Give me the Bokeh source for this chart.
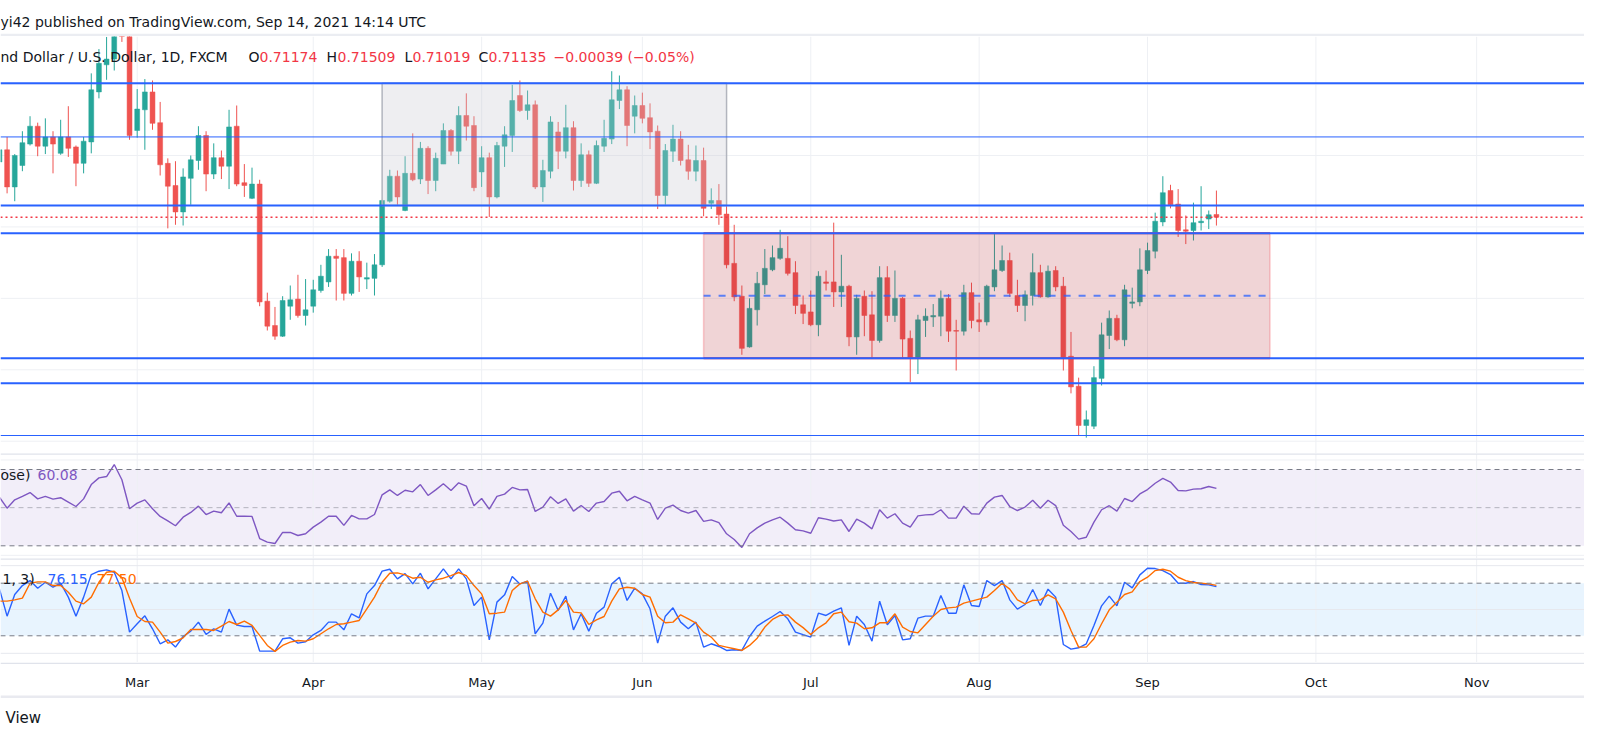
import numpy as np
import pandas as pd
from bokeh.plotting import figure
from bokeh.layouts import column
from bokeh.models import Range1d, Span, BoxAnnotation, Label, ColumnDataSource
from bokeh.core.properties import value
from bokeh.embed import file_html
from bokeh.resources import INLINE

FONT = "DejaVu Sans"
UP, DOWN = "#26a69a", "#ef5350"
BLUE = "#2962ff"
GRID = "#eef0f4"
INK = "#131722"

# NZD/USD daily bars, FXCM, 3 Feb - 14 Sep 2021
dates = pd.bdate_range("2021-02-03", "2021-09-14")
opens = [
    0.7191, 0.7208, 0.7156, 0.7186, 0.7216, 0.7241, 0.7213, 0.7226, 0.7203, 0.7226,
    0.7212, 0.7189, 0.7219, 0.7289, 0.7327, 0.7335, 0.7405, 0.7372,
    0.7235, 0.7264, 0.7289, 0.7246, 0.7189, 0.7158, 0.7121, 0.7168, 0.7193, 0.7228,
    0.7174, 0.7197, 0.7185, 0.7241, 0.7162, 0.7140, 0.7160, 0.6996, 0.6962, 0.6947,
    0.6989, 0.6999, 0.6976, 0.6989, 0.7011, 0.7023, 0.7059, 0.7057, 0.7007, 0.7052,
    0.7027, 0.7028, 0.7047, 0.7136, 0.7171, 0.7123, 0.7175, 0.7167, 0.7210, 0.7165,
    0.7188, 0.7235, 0.7206, 0.7256, 0.7242, 0.7177, 0.7197, 0.7142, 0.7213, 0.7228,
    0.7284, 0.7263, 0.7271, 0.7156, 0.7178, 0.7233, 0.7206, 0.7239, 0.7165, 0.7201,
    0.7161, 0.7213, 0.7223, 0.7277, 0.7292, 0.7255, 0.7270, 0.7253, 0.7234, 0.7144,
    0.7206, 0.7223, 0.7194, 0.7178, 0.7193, 0.7133, 0.7137, 0.7118, 0.7049, 0.7003,
    0.6932, 0.6984, 0.7019, 0.7040, 0.7056, 0.7056, 0.7036, 0.6991, 0.6981, 0.6963,
    0.7023, 0.7023, 0.7009, 0.7017, 0.6946, 0.7003, 0.6977, 0.6941, 0.7029, 0.6976,
    0.7000, 0.6944, 0.6917, 0.6969, 0.6974, 0.6975, 0.7000, 0.6955, 0.6954, 0.7008,
    0.6970, 0.6967, 0.7016, 0.7039, 0.7053, 0.7004, 0.6990, 0.7004, 0.7036, 0.7002,
    0.7039, 0.7017, 0.6919, 0.6877, 0.6822, 0.6821, 0.6888, 0.6948, 0.6972, 0.6942,
    0.6993, 0.6995, 0.7039, 0.7066, 0.7107, 0.7151, 0.7132, 0.7096, 0.7095, 0.7106,
    0.7111, 0.71174,
]
highs = [
    0.7214, 0.7226, 0.7202, 0.7234, 0.7255, 0.7246, 0.7252, 0.7234, 0.7250, 0.7269,
    0.7214, 0.7226, 0.7315, 0.7349, 0.7366, 0.7425, 0.7465, 0.7380,
    0.7293, 0.7307, 0.7305, 0.7275, 0.7196, 0.7192, 0.7182, 0.7200, 0.7241, 0.7234,
    0.7217, 0.7207, 0.7264, 0.7270, 0.7188, 0.7183, 0.7166, 0.7008, 0.6988, 0.7003,
    0.7018, 0.7033, 0.7027, 0.7026, 0.7047, 0.7069, 0.7069, 0.7069, 0.7063, 0.7066,
    0.7050, 0.7062, 0.7138, 0.7180, 0.7179, 0.7199, 0.7231, 0.7219, 0.7213, 0.7204,
    0.7245, 0.7237, 0.7269, 0.7287, 0.7255, 0.7213, 0.7204, 0.7219, 0.7241, 0.7299,
    0.7305, 0.7291, 0.7277, 0.7194, 0.7255, 0.7247, 0.7271, 0.7248, 0.7217, 0.7207,
    0.7221, 0.7250, 0.7318, 0.7312, 0.7297, 0.7284, 0.7288, 0.7273, 0.7242, 0.7216,
    0.7243, 0.7234, 0.7215, 0.7214, 0.7211, 0.7154, 0.7160, 0.7129, 0.7103, 0.7018,
    0.7000, 0.7037, 0.7069, 0.7074, 0.7096, 0.7087, 0.7052, 0.7004, 0.7011, 0.7038,
    0.7039, 0.7106, 0.7061, 0.7019, 0.7005, 0.7011, 0.7010, 0.7045, 0.7045, 0.7039,
    0.7002, 0.6955, 0.6977, 0.6986, 0.6992, 0.7011, 0.7006, 0.6970, 0.7019, 0.7022,
    0.6994, 0.7019, 0.7090, 0.7074, 0.7064, 0.7026, 0.7011, 0.7063, 0.7047, 0.7046,
    0.7045, 0.7030, 0.6953, 0.6889, 0.6843, 0.6905, 0.6966, 0.6983, 0.6977, 0.7019,
    0.7015, 0.7070, 0.7078, 0.7120, 0.7171, 0.7159, 0.7153, 0.7116, 0.7134, 0.7157,
    0.7123, 0.71509,
]
lows = [
    0.7186, 0.7147, 0.7136, 0.7178, 0.7214, 0.7199, 0.7202, 0.7175, 0.7201, 0.7198,
    0.7157, 0.7175, 0.7203, 0.7280, 0.7306, 0.7319, 0.7359, 0.7222,
    0.7225, 0.7208, 0.7236, 0.7172, 0.7098, 0.7103, 0.7102, 0.7131, 0.7180, 0.7150,
    0.7167, 0.7167, 0.7153, 0.7157, 0.7142, 0.7139, 0.6989, 0.6955, 0.6942, 0.6946,
    0.6970, 0.6973, 0.6962, 0.6980, 0.7008, 0.7016, 0.6997, 0.6997, 0.7004, 0.7009,
    0.7013, 0.7004, 0.7044, 0.7134, 0.7131, 0.7122, 0.7164, 0.7160, 0.7146, 0.7150,
    0.7188, 0.7200, 0.7188, 0.7221, 0.7150, 0.7156, 0.7114, 0.7140, 0.7184, 0.7205,
    0.7261, 0.7250, 0.7153, 0.7135, 0.7168, 0.7181, 0.7196, 0.7151, 0.7156, 0.7156,
    0.7160, 0.7205, 0.7216, 0.7265, 0.7213, 0.7231, 0.7245, 0.7209, 0.7125, 0.7131,
    0.7191, 0.7186, 0.7166, 0.7164, 0.7115, 0.7125, 0.7103, 0.7042, 0.6996, 0.6921,
    0.6931, 0.6962, 0.7006, 0.7038, 0.7054, 0.7032, 0.6978, 0.6964, 0.6961, 0.6947,
    0.7011, 0.6988, 0.6988, 0.6933, 0.6921, 0.6947, 0.6917, 0.6938, 0.6967, 0.6967,
    0.6917, 0.6883, 0.6894, 0.6946, 0.6960, 0.6947, 0.6939, 0.6899, 0.6948, 0.6958,
    0.6953, 0.6962, 0.7010, 0.7037, 0.7002, 0.6981, 0.6968, 0.6990, 0.7001, 0.7001,
    0.7010, 0.6899, 0.6867, 0.6808, 0.6805, 0.6817, 0.6878, 0.6929, 0.6940, 0.6933,
    0.6986, 0.6989, 0.7034, 0.7056, 0.7101, 0.7126, 0.7086, 0.7076, 0.7081, 0.7095,
    0.7097, 0.71019,
]
closes = [
    0.7208, 0.7156, 0.7200, 0.7218, 0.7241, 0.7213, 0.7226, 0.7216, 0.7226, 0.7210,
    0.7189, 0.7220, 0.7292, 0.7329, 0.7335, 0.7405, 0.7372, 0.7228,
    0.7265, 0.7289, 0.7245, 0.7187, 0.7157, 0.7121, 0.7170, 0.7194, 0.7228, 0.7174,
    0.7197, 0.7185, 0.7240, 0.7160, 0.7158, 0.7160, 0.6995, 0.6961, 0.6947, 0.6997,
    0.6998, 0.6976, 0.6984, 0.7012, 0.7031, 0.7059, 0.7056, 0.7007, 0.7052, 0.7030,
    0.7029, 0.7047, 0.7137, 0.7171, 0.7142, 0.7175, 0.7166, 0.7210, 0.7165, 0.7196,
    0.7235, 0.7206, 0.7256, 0.7241, 0.7155, 0.7197, 0.7142, 0.7214, 0.7229, 0.7277,
    0.7263, 0.7271, 0.7156, 0.7179, 0.7247, 0.7206, 0.7239, 0.7165, 0.7201, 0.7161,
    0.7214, 0.7224, 0.7278, 0.7292, 0.7242, 0.7270, 0.7252, 0.7233, 0.7144, 0.7207,
    0.7223, 0.7193, 0.7178, 0.7193, 0.7126, 0.7137, 0.7117, 0.7047, 0.7002, 0.6930,
    0.6986, 0.7021, 0.7042, 0.7057, 0.7070, 0.7035, 0.6990, 0.6979, 0.6963, 0.7031,
    0.7021, 0.7009, 0.7017, 0.6946, 0.7000, 0.6976, 0.6941, 0.7029, 0.6976, 0.7000,
    0.6943, 0.6917, 0.6970, 0.6975, 0.6976, 0.7000, 0.6954, 0.6954, 0.7008, 0.6969,
    0.6967, 0.7017, 0.7040, 0.7053, 0.7007, 0.6990, 0.7005, 0.7036, 0.7002, 0.7038,
    0.7016, 0.6917, 0.6876, 0.6822, 0.6830, 0.6889, 0.6949, 0.6972, 0.6942, 0.7012,
    0.6995, 0.7040, 0.7067, 0.7108, 0.7148, 0.7131, 0.7095, 0.7094, 0.7106, 0.7108,
    0.7117, 0.71135,
]
rsi = [
    55.5, 49.7, 54.1, 55.9, 57.9, 54.6, 55.9, 54.5, 55.2, 52.9,
    50.6, 54.6, 62.1, 65.6, 66.3, 72.6, 64.6, 49.4,
    52.4, 54.1, 49.4, 45.4, 43.1, 40.5, 45.0, 47.5, 50.8, 46.4,
    48.2, 47.3, 52.5, 45.5, 45.5, 45.4, 33.8, 31.9, 31.2, 37.0,
    37.0, 35.4, 36.3, 39.8, 42.4, 45.5, 45.5, 40.7, 45.9, 44.1,
    44.1, 46.4, 56.7, 59.3, 56.4, 59.1, 58.3, 62.1, 56.4, 59.3,
    62.5, 59.0, 63.0, 61.3, 51.0, 54.8, 49.2, 55.9, 57.1, 60.6,
    59.3, 59.5, 48.0, 50.3, 55.7, 52.2, 54.6, 48.2, 51.1, 48.0,
    52.4, 53.2, 57.6, 58.6, 53.6, 55.9, 54.1, 52.4, 43.8, 49.7,
    51.3, 48.5, 47.1, 48.5, 42.8, 43.6, 42.1, 36.3, 33.3, 29.1,
    36.3, 39.4, 41.9, 43.6, 45.0, 41.9, 38.4, 37.8, 36.6, 44.7,
    44.0, 43.0, 43.6, 37.5, 44.0, 41.9, 38.9, 48.9, 44.5, 46.8,
    41.9, 39.8, 45.7, 46.2, 46.4, 48.9, 44.5, 44.5, 50.8, 46.8,
    46.6, 52.4, 55.5, 56.4, 50.6, 48.5, 50.3, 53.9, 49.7, 53.9,
    51.1, 40.8, 37.5, 33.5, 34.5, 42.4, 48.9, 51.0, 48.2, 54.8,
    53.2, 57.2, 59.5, 62.8, 65.3, 63.4, 59.0, 58.8, 59.7, 59.9,
    61.1, 60.08,
]
stoch_k = [
    73.5, 42.4, 67.1, 77.3, 83.0, 74.3, 81.1, 75.4, 80.0, 64.1,
    42.4, 64.1, 89.9, 93.7, 95.2, 92.5, 71.6, 24.2,
    33.7, 42.8, 28.0, 10.9, 15.4, 7.1, 19.2, 25.3, 35.6, 21.5,
    28.0, 24.2, 50.4, 32.2, 30.6, 30.6, 2.5, 2.5, 2.5, 16.6,
    17.7, 11.6, 13.2, 21.1, 26.1, 35.6, 35.6, 26.8, 45.1, 40.5,
    67.8, 77.3, 93.7, 95.9, 84.9, 91.0, 79.2, 91.4, 73.5, 84.9,
    96.3, 84.9, 96.3, 84.9, 54.6, 64.1, 15.4, 58.4, 66.7, 87.6,
    79.2, 82.3, 22.3, 34.4, 68.6, 48.9, 65.2, 26.8, 45.1, 25.3,
    45.8, 52.7, 79.2, 86.8, 60.3, 74.3, 67.8, 50.8, 11.6, 42.4,
    51.9, 35.6, 28.0, 35.6, 7.1, 10.9, 7.8, 3.3, 4.1, 3.3,
    19.2, 31.0, 36.7, 42.0, 47.7, 39.4, 24.2, 21.3, 18.5, 45.8,
    43.2, 48.1, 51.9, 9.0, 42.4, 32.9, 13.9, 59.5, 32.5, 43.2,
    15.4, 16.6, 40.1, 42.4, 42.4, 65.9, 45.8, 45.8, 78.1, 54.6,
    53.4, 83.0, 77.3, 83.0, 61.0, 50.4, 55.7, 72.8, 54.6, 73.2,
    64.1, 10.1, 4.8, 6.3, 10.9, 31.8, 54.2, 65.2, 54.2, 81.1,
    74.7, 89.5, 97.1, 96.7, 94.4, 89.9, 80.0, 80.0, 81.9, 78.5,
    78.1, 76.15,
]
stoch_d = [
    59.5, 59.5, 61.0, 62.9, 80.0, 81.5, 81.5, 77.3, 77.3, 69.7,
    59.5, 56.5, 64.1, 81.1, 92.5, 93.7, 86.1, 62.9,
    42.0, 36.3, 35.6, 24.2, 11.6, 13.5, 17.7, 27.2, 27.2, 27.2,
    26.1, 31.0, 36.3, 32.9, 36.7, 31.8, 20.4, 9.0, 2.2, 9.0,
    12.8, 14.7, 13.9, 16.6, 22.3, 28.0, 32.9, 33.7, 35.6, 37.5,
    50.8, 64.1, 81.1, 91.4, 91.8, 89.5, 85.7, 86.8, 81.1, 83.8,
    85.7, 88.7, 92.2, 88.7, 77.3, 67.8, 45.1, 45.8, 47.0, 71.6,
    79.2, 82.3, 62.2, 47.0, 42.4, 49.6, 60.3, 47.0, 46.2, 32.9,
    38.2, 42.0, 59.5, 73.5, 75.4, 74.3, 67.1, 64.1, 42.4, 34.8,
    35.6, 43.9, 39.4, 34.4, 24.2, 18.5, 9.0, 7.1, 5.2, 3.3,
    9.0, 17.3, 29.9, 38.6, 43.2, 43.9, 35.6, 29.3, 21.5, 29.1,
    34.8, 45.1, 47.0, 36.0, 34.4, 28.0, 29.1, 34.8, 34.8, 45.1,
    29.9, 24.9, 23.4, 32.9, 42.4, 50.0, 51.9, 52.7, 57.2, 59.5,
    61.8, 64.1, 71.6, 80.0, 73.2, 61.0, 56.5, 60.3, 61.0, 66.7,
    62.2, 47.0, 26.1, 7.1, 7.1, 16.6, 33.7, 49.6, 58.4, 67.1,
    70.1, 81.9, 86.8, 94.4, 95.9, 93.7, 86.8, 83.0, 80.8, 80.0,
    79.2, 77.50,
]

# drawings
levels_thick = [0.7301, 0.7130, 0.7091, 0.6916, 0.6881]
levels_thin = [0.7226, 0.6808]
gray_box = ("2021-04-14", "2021-06-16", 0.7301, 0.7130)
pink_box = ("2021-06-11", "2021-09-23", 0.7091, 0.6916)
price_grid = [0.68, 0.69, 0.70, 0.71, 0.72, 0.73]
month_labels = ["Mar", "Apr", "May", "Jun", "Jul", "Aug", "Sep", "Oct", "Nov"]

cal = pd.bdate_range("2021-02-03", "2021-11-30")
pos = np.arange(len(dates))
month_pos = [int(np.argmax(cal.month == m)) for m in range(3, 12)]


def cpos(d):
    return int(cal.get_loc(pd.Timestamp(d)))


# page geometry
W = 1584
bar_px = 7.654
x_lo = month_pos[0] - 136.7 / bar_px
xr = Range1d(x_lo, x_lo + W / bar_px)


def make_fig(h, yr, x_range=xr):
    p = figure(width=W, height=h, x_range=x_range, y_range=yr,
               output_backend="svg", toolbar_location=None,
               x_axis_location=None, y_axis_location=None, min_border=0)
    p.outline_line_color = None
    p.background_fill_color = "white"
    p.border_fill_color = "white"
    p.xgrid.visible = False
    p.ygrid.visible = False
    return p


def label(p, x, y, text, color=INK, size="14px"):
    p.add_layout(Label(x=x, y=y, x_units="screen", y_units="screen", text=text,
                       text_color=color, text_font=FONT, text_font_size=size,
                       text_baseline="middle"))


def vgrid(p):
    for m in month_pos:
        p.add_layout(Span(location=m, dimension="height", line_color=GRID,
                          line_width=1, level="underlay"))


# header
head = make_fig(36, Range1d(0, 36), Range1d(0, W))
label(head, 0, 14.3, "yi42 published on TradingView.com, Sep 14, 2021 14:14 UTC")
head.add_layout(Span(location=1.5, dimension="width", line_color="#ebedf2", line_width=2.5))

# main price pane
main = make_fig(417, Range1d(0.67828, 0.73666))
vgrid(main)
for g in price_grid:
    main.add_layout(Span(location=g, dimension="width", line_color=GRID,
                         line_width=1, level="underlay"))

o, h, l, c = map(np.array, (opens, highs, lows, closes))
src = ColumnDataSource(dict(x=pos, h=h, l=l, top=np.maximum(o, c), bot=np.minimum(o, c),
                            col=np.where(c >= o, UP, DOWN)))
main.segment("x", "l", "x", "h", color="col", line_width=1, source=src)
main.vbar(x="x", width=0.64, top="top", bottom="bot", fill_color="col",
          line_color="col", line_width=0.5, source=src)

gl, gr = cpos(gray_box[0]), cpos(gray_box[1])
main.quad(left=[gl], right=[gr], top=[gray_box[2]], bottom=[gray_box[3]],
          fill_color="#c8c8d2", fill_alpha=0.3, line_color="#b2b5be", line_width=1.5)

pl, pr = cpos(pink_box[0]), cpos(pink_box[1])
main.quad(left=[pl], right=[pr], top=[pink_box[2]], bottom=[pink_box[3]],
          fill_color="#b22833", fill_alpha=0.2, line_color="#f23645", line_alpha=0.25,
          line_width=1.5)
main.segment(x0=[pl, pl], x1=[pr, pr], y0=[pink_box[2], pink_box[3]],
             y1=[pink_box[2], pink_box[3]], line_color="#f23645", line_width=2)
mid = (pink_box[2] + pink_box[3]) / 2
main.segment(x0=[pl], x1=[pr], y0=[mid], y1=[mid], line_color=BLUE, line_alpha=0.75,
             line_width=2, line_dash="7 8")

for v in levels_thick:
    main.add_layout(Span(location=v, dimension="width", line_color=BLUE, line_width=2))
for v in levels_thin:
    main.add_layout(Span(location=v, dimension="width", line_color=BLUE, line_width=1))
main.add_layout(Span(location=closes[-1], dimension="width", line_color="#f23645",
                     line_width=1.5, line_dash="2 3"))

ly = 417 - 20.7
red = "#f23645"
label(main, 0, ly, "nd Dollar / U.S. Dollar, 1D, FXCM")
for x, t, col in [(248, "O", INK), (259, f"{opens[-1]:.5f}", red),
                  (326, "H", INK), (337, f"{highs[-1]:.5f}", red),
                  (404, "L", INK), (412, f"{lows[-1]:.5f}", red),
                  (478, "C", INK), (488, f"{closes[-1]:.5f}", red),
                  (553, "\u22120.00039 (\u22120.05%)", red)]:
    label(main, x, ly, t, col)

# RSI pane
rsi_fig = make_fig(105, Range1d(23.34, 78.39))
rsi_fig.add_layout(BoxAnnotation(bottom=30, top=70, fill_color="#7e57c2", fill_alpha=0.1,
                                 line_alpha=0, level="underlay"))
vgrid(rsi_fig)
for g in [25, 75]:
    rsi_fig.add_layout(Span(location=g, dimension="width", line_color=GRID,
                            line_width=1, level="underlay"))
for g, a in [(70, 1.0), (50, 0.5), (30, 1.0)]:
    rsi_fig.add_layout(Span(location=g, dimension="width", line_color="#787b86",
                            line_alpha=a, line_width=1, line_dash="5 4"))
rsi_fig.line(pos, rsi, line_color="#7e57c2", line_width=1.4)
rsi_fig.add_layout(Span(location=78.2, dimension="width", line_color="#e0e3eb", line_width=2))
label(rsi_fig, 0, 84, "ose)")
label(rsi_fig, 37, 84, f"{rsi[-1]:.2f}", "#7e57c2")

# Stochastic pane
st = make_fig(104, Range1d(-10.46, 108.17))
st.add_layout(BoxAnnotation(bottom=20, top=80, fill_color="#2196f3", fill_alpha=0.1,
                            line_alpha=0, level="underlay"))
vgrid(st)
for g in [0, 50, 100]:
    st.add_layout(Span(location=g, dimension="width", line_color="#e6e8ee",
                       line_width=1, level="underlay"))
for g in [80, 20]:
    st.add_layout(Span(location=g, dimension="width", line_color="#787b86",
                       line_width=1, line_dash="5 4"))
st.line(pos, stoch_k, line_color=BLUE, line_width=1.4)
st.line(pos, stoch_d, line_color="#ff6d00", line_width=1.4)
st.add_layout(Span(location=107.9, dimension="width", line_color="#e0e3eb", line_width=2))
label(st, 2, 104 - 20.3, "1, 3)")
label(st, 47, 104 - 20.3, f"{stoch_k[-1]:.2f}", BLUE)
label(st, 96, 104 - 20.3, f"{stoch_d[-1]:.2f}", "#ff6d00")

# time axis
ax = make_fig(36, Range1d(0, 36))
ax.add_layout(Span(location=35.3, dimension="width", line_color="#e0e3eb", line_width=1.5))
ax.add_layout(Span(location=1.5, dimension="width", line_color="#e9eaf0", line_width=3))
ax.text(x=month_pos, y=[16.3] * len(month_pos), text=month_labels, text_align="center",
        text_baseline="middle", text_font=value(FONT), text_font_size="13px",
        text_color=INK)

# footer
foot = make_fig(31, Range1d(0, 31), Range1d(0, W))
label(foot, 5, 12, "View", size="15px")

layout = column(head, main, rsi_fig, st, ax, foot, spacing=0)
open("out.html", "w").write(file_html(layout, INLINE))
